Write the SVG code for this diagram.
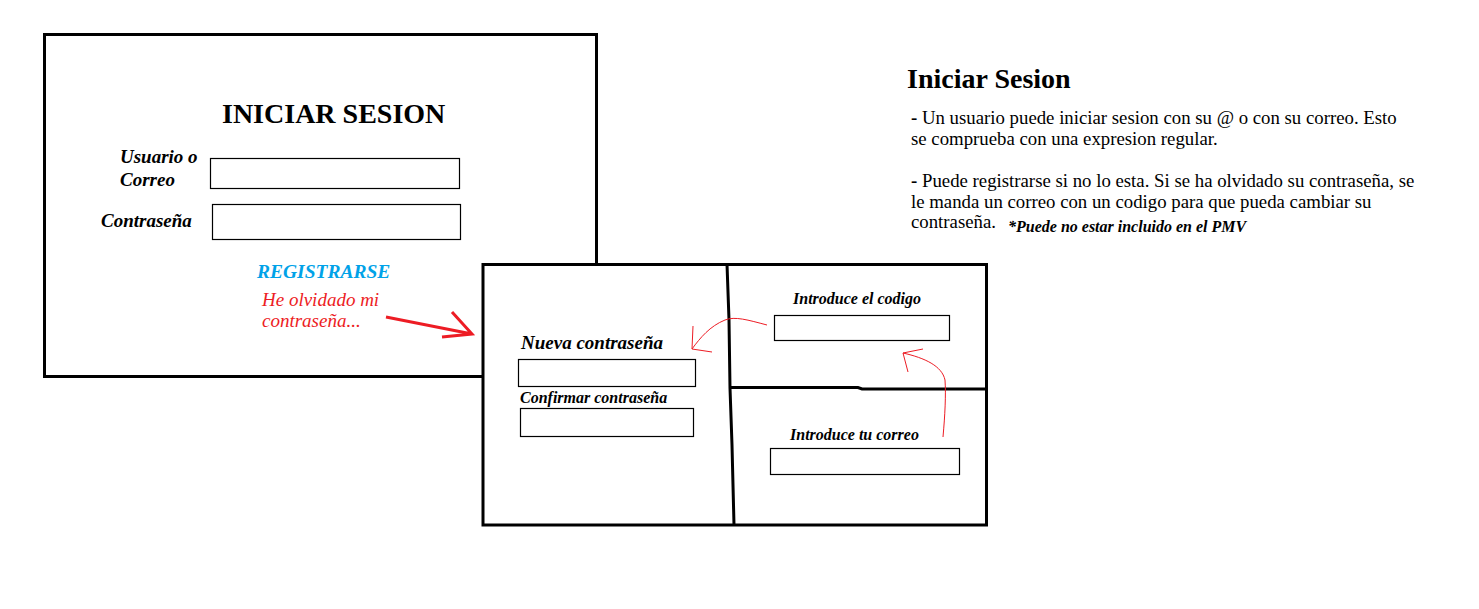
<svg xmlns="http://www.w3.org/2000/svg" width="1479" height="609" viewBox="0 0 1479 609">
<style>
.frame{fill:#fff;stroke:#000;stroke-width:3}
.input{fill:#fff;stroke:#000;stroke-width:1.2}
.lbl{font-family:"Liberation Serif",serif;font-weight:bold;font-style:italic;fill:#000}
.body{font-family:"Liberation Serif",serif;font-size:18.8px;fill:#000}
.red{fill:none;stroke:#ED1C24}
</style>
<rect width="1479" height="609" fill="#fff"/>
<g id="login">
<rect class="frame" x="44.5" y="34.5" width="552" height="342"/>
<text x="222" y="123" font-family="Liberation Serif,serif" font-weight="bold" font-size="28">INICIAR SESION</text>
<text class="lbl" x="120" y="163" font-size="19">Usuario o</text>
<text class="lbl" x="120" y="186" font-size="19">Correo</text>
<rect class="input" x="210.5" y="158.5" width="249" height="30"/>
<text class="lbl" x="101" y="227" font-size="19">Contraseña</text>
<rect class="input" x="212.5" y="204.5" width="248" height="35"/>
<text class="lbl" x="257" y="278" font-size="19.5" style="fill:#00A2E8">REGISTRARSE</text>
<text x="262" y="306" font-family="Liberation Serif,serif" font-style="italic" font-size="19" fill="#ED1C24">He olvidado mi</text>
<text x="262" y="327" font-family="Liberation Serif,serif" font-style="italic" font-size="19" fill="#ED1C24">contraseña...</text>
</g>
<g id="recovery">
<rect class="frame" x="483" y="264.5" width="503.5" height="260.5"/>
<polyline points="727,264 729,320 730,388 732,445 734,525" fill="none" stroke="#000" stroke-width="3"/>
<polyline points="731,387.5 858,387.5 862,389 986,389" fill="none" stroke="#000" stroke-width="3"/>
</g>
<g id="new-password">
<text class="lbl" x="521" y="349" font-size="19">Nueva contraseña</text>
<rect class="input" x="518.5" y="359.5" width="177" height="27"/>
<text class="lbl" x="520" y="403" font-size="16">Confirmar contraseña</text>
<rect class="input" x="520.5" y="408.5" width="173" height="28"/>
</g>
<g id="enter-code">
<text class="lbl" x="793" y="304" font-size="16">Introduce el codigo</text>
<rect class="input" x="774.5" y="315.5" width="175" height="25"/>
</g>
<g id="enter-email">
<text class="lbl" x="790" y="440" font-size="16">Introduce tu correo</text>
<rect class="input" x="770.5" y="448.5" width="189" height="26"/>
</g>
<g id="notes">
<text x="907" y="88" font-family="Liberation Serif,serif" font-weight="bold" font-size="28">Iniciar Sesion</text>
<text class="body" x="911" y="124"><tspan font-weight="bold">-</tspan> Un usuario puede iniciar sesion con su @ o con su correo. Esto</text>
<text class="body" x="911" y="145">se comprueba con una expresion regular.</text>
<text class="body" x="911" y="187"><tspan font-weight="bold">-</tspan> Puede registrarse si no lo esta. Si se ha olvidado su contraseña, se</text>
<text class="body" x="911" y="208">le manda un correo con un codigo para que pueda cambiar su</text>
<text class="body" x="911" y="228">contraseña.</text>
<text class="lbl" x="1008" y="232" font-size="16">*Puede no estar incluido en el PMV</text>
</g>
<g id="connectors">
<path class="red" stroke-width="3" d="M386,317 L472,334 M452,312 L472,334 L442,337"/>
<path class="red" stroke-width="1" d="M767,325 C748,320 735,316 725,320 C710,326 700,338 692,349 M693,326 L692,349 L712,352"/>
<path class="red" stroke-width="1" d="M943,437 C945,415 946,395 945,380 C942,366 925,358 903,353 M923,349 L903,353 L908,372"/>
</g>
</svg>
